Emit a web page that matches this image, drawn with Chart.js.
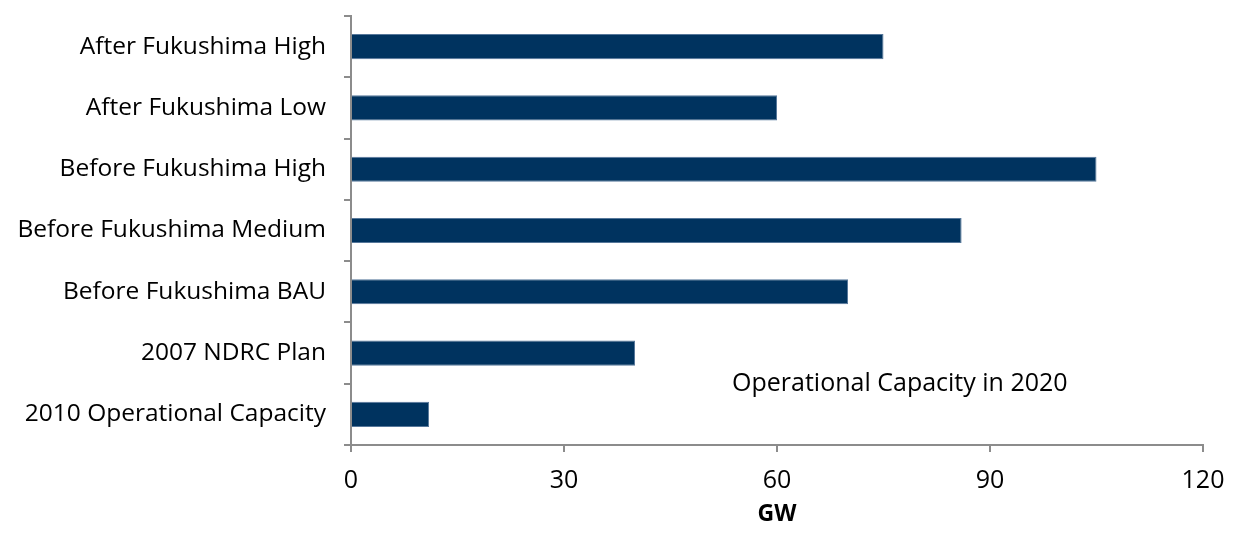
<!DOCTYPE html>
<html>
<head>
<meta charset="utf-8">
<script src="https://cdn.jsdelivr.net/npm/chart.js@4"></script>
<style>
  html, body { margin: 0; padding: 0; background: #fff; }
  #wrap { width: 1235px; height: 536px; }
</style>
</head>
<body>
<div id="wrap"><canvas id="myChart"></canvas></div>
<script>
const categories = [
    'After Fukushima High',
    'After Fukushima Low',
    'Before Fukushima High',
    'Before Fukushima Medium',
    'Before Fukushima BAU',
    '2007 NDRC Plan',
    '2010 Operational Capacity'
];
const capacityGW = [75, 60, 105, 86, 70, 40, 11];
const xTicks = [0, 30, 60, 90, 120];
const noteText = 'Operational Capacity in 2020';

const axisGrey = '#8c8c8c';
const font = '"Open Sans", sans-serif';

// text inside the plot, placed through the scales
const notePlugin = {
    id: 'note',
    afterDraw(chart) {
        const c = chart.ctx;
        const x = chart.scales.x.getPixelForValue(77.3);
        const y = chart.scales.y.getPixelForValue(5.5);
        c.save();
        c.font = '25px ' + font;
        c.fillStyle = '#000';
        c.textAlign = 'center';
        c.textBaseline = 'middle';
        c.fillText(noteText, x, y);
        c.restore();
    }
};

const ctx = document.getElementById('myChart');

new Chart(ctx, {
    type: 'bar',
    data: {
        labels: categories,
        datasets: [{
            data: capacityGW,
            backgroundColor: '#00335f',
            borderColor: '#56779a',
            borderWidth: 1,
            categoryPercentage: 1,
            barPercentage: 0.41
        }]
    },
    plugins: [notePlugin],
    options: {
        indexAxis: 'y',
        responsive: true,
        maintainAspectRatio: false,
        animation: false,
        layout: { padding: { top: 16, right: 32, left: 0, bottom: 0 } },
        plugins: {
            legend: { display: false },
            tooltip: { enabled: false }
        },
        scales: {
            x: {
                min: 0,
                max: 120,
                afterBuildTicks(axis) {
                    axis.ticks = xTicks.map(v => ({ value: v }));
                },
                afterFit(axis) {
                    axis.height = 91;
                    axis.paddingLeft = 0;
                    axis.paddingRight = 0;
                },
                border: { color: axisGrey, width: 2 },
                grid: {
                    drawOnChartArea: false,
                    color: axisGrey,
                    lineWidth: 2,
                    tickLength: 7
                },
                ticks: {
                    color: '#000',
                    font: { family: font, size: 25 },
                    padding: 14
                },
                title: {
                    display: true,
                    text: 'GW',
                    color: '#000',
                    font: { family: font, size: 23, weight: 'bold' },
                    padding: { top: 0, bottom: 8 }
                }
            },
            y: {
                afterFit(axis) {
                    axis.width = 351;
                    axis.paddingTop = 0;
                    axis.paddingBottom = 0;
                },
                border: { color: axisGrey, width: 2 },
                grid: {
                    drawOnChartArea: false,
                    offset: true,
                    color: axisGrey,
                    lineWidth: 2,
                    tickLength: 7
                },
                ticks: {
                    color: '#000',
                    font: { family: font, size: 24.5 },
                    padding: 18
                }
            }
        }
    }
});
</script>
</body>
</html>
